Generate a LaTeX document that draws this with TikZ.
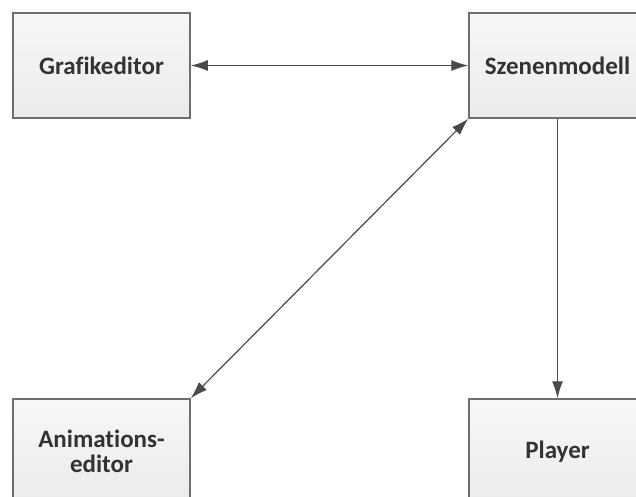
\documentclass[tikz,border=0pt]{standalone}
\usepackage{fontspec}
\setmainfont{Carlito}[Ligatures=NoCommon]
\usetikzlibrary{arrows.meta}
\definecolor{rand}{HTML}{6E6E6E}
\definecolor{schrift}{HTML}{333333}
\definecolor{linie}{HTML}{4A4A4A}
\begin{document}
\begin{tikzpicture}[x=1pt,y=-1pt,
    kasten/.style={draw=rand,line width=1.5pt,top color=white!97!black,bottom color=white!92!black,
        minimum width=177pt,minimum height=105pt,inner sep=0pt,text=schrift,align=center,
        font=\fontsize{25}{24.5}\selectfont\bfseries},
    spitze/.tip={Latex[length=17pt,width=11pt]},
    verbindung/.style={draw=linie,line width=1.2pt}]
    \useasboundingbox (0,0) rectangle (636,497);
    \clip (0,0) rectangle (636,497);

    \node (grafik) at (101.5,65.5) [kasten] {Grafikeditor};
    \node (szene) at (557.5,65.5) [kasten] {Szenenmodell};
    \node (anim) at (101.5,451.5) [kasten] {Animations-\\editor};
    \node (player) at (557.5,451.5) [kasten] {Player};

    \draw[verbindung,spitze-spitze] (grafik) -- (szene);
    \draw[verbindung,spitze-spitze] (szene.south west) -- (anim.north east);
    \draw[verbindung,-spitze] (szene) -- (player);
\end{tikzpicture}
\end{document}
